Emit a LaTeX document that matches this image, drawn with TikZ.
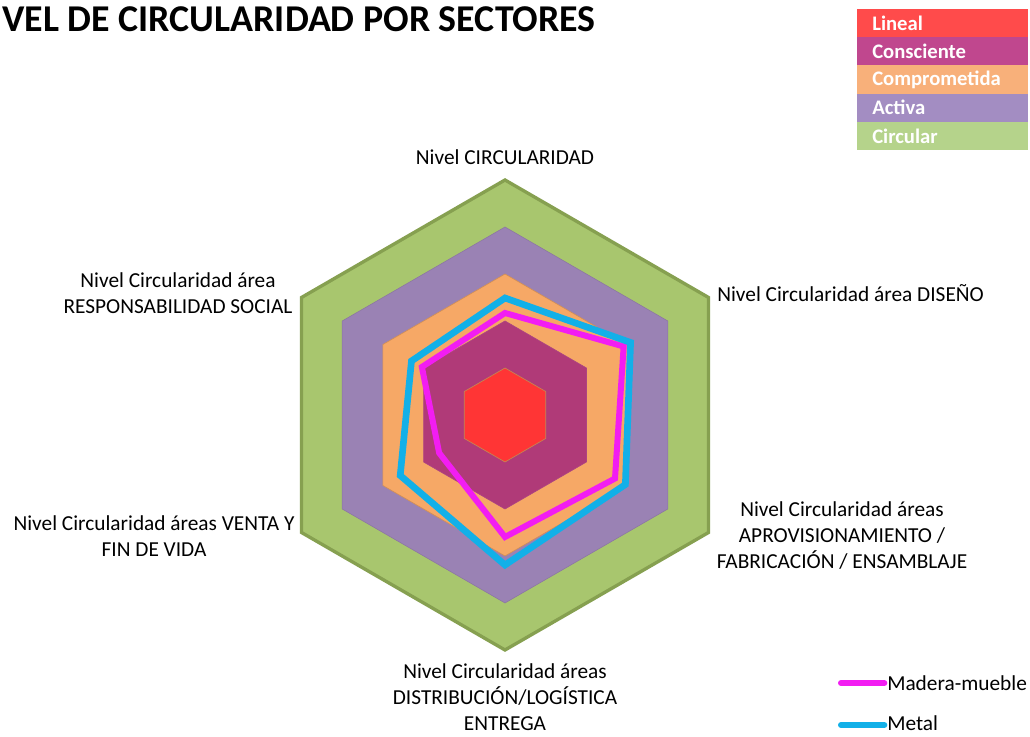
\documentclass[tikz,border=0pt]{standalone}
\usepackage{fontspec}
\setmainfont{Carlito}
\usepackage{tikz}
\definecolor{chartRed}{HTML}{FF3535}
\definecolor{chartCons}{HTML}{B03A78}
\definecolor{chartOrange}{HTML}{F6A866}
\definecolor{chartPurple}{HTML}{9A82B4}
\definecolor{chartGreen}{HTML}{A8C66E}
\definecolor{greenEdge}{HTML}{86A050}
\definecolor{keyLineal}{HTML}{FF4B4B}
\definecolor{keyCons}{HTML}{C0478E}
\definecolor{keyComp}{HTML}{F8B07A}
\definecolor{keyActiva}{HTML}{A38DC2}
\definecolor{keyCircular}{HTML}{B5D38B}
\definecolor{maderaMag}{HTML}{F21DF2}
\definecolor{metalCyan}{HTML}{12B0E8}

\begin{document}
\begin{tikzpicture}[x=0.75pt, y=0.75pt,
  lbl/.style={font=\fontsize{16}{19.5}\selectfont, align=center, inner sep=0pt},
  keytext/.style={font=\bfseries\fontsize{15.5}{18}\selectfont, text=white, anchor=west, inner sep=0pt},
  maderaLine/.style={line width=4.5pt, maderaMag},
  metalLine/.style={line width=5pt, metalCyan}]
	\useasboundingbox (0,0) rectangle (1030,737);
	\fill[white] (0,0) rectangle (1030,737);
	\node[anchor=east, font=\bfseries\fontsize{28.4}{34}\selectfont, inner sep=0pt] (titulo) at (596,718) {VEL DE CIRCULARIDAD POR SECTORES};

	\fill[keyLineal] (857,728) rectangle (1028,699.8);
	\fill[keyCons] (857,699.8) rectangle (1028,671.6);
	\fill[keyComp] (857,671.6) rectangle (1028,643.4);
	\fill[keyActiva] (857,643.4) rectangle (1028,615.2);
	\fill[keyCircular] (857,615.2) rectangle (1028,587);
	\node[keytext] (lineal) at (872,713.9) {Lineal};
	\node[keytext] (consciente) at (872,685.7) {Consciente};
	\node[keytext] (comprometida) at (872,657.5) {Comprometida};
	\node[keytext] (activa) at (872,629.3) {Activa};
	\node[keytext] (circular) at (872,601.1) {Circular};

	\begin{scope}[shift={(505,322)}]
	\draw[fill=chartGreen, draw=greenEdge, line width=2.5pt] (90:235) -- (30:235) -- (-30:235) -- (-90:235) -- (210:235) -- (150:235) -- cycle;
	\draw[fill=chartPurple, draw=chartPurple!90!black, line width=0.4pt] (90:188) -- (30:188) -- (-30:188) -- (-90:188) -- (210:188) -- (150:188) -- cycle;
	\draw[fill=chartOrange, draw=chartOrange!85!black, line width=0.5pt] (90:141) -- (30:141) -- (-30:141) -- (-90:141) -- (210:141) -- (150:141) -- cycle;
	\draw[fill=chartCons, draw=chartCons!85!chartPurple, line width=0.5pt] (90:94) -- (30:94) -- (-30:94) -- (-90:94) -- (210:94) -- (150:94) -- cycle;
	\draw[fill=chartRed, draw=chartOrange!80!black, line width=0.5pt] (90:47) -- (30:47) -- (-30:47) -- (-90:47) -- (210:47) -- (150:47) -- cycle;
	\draw[maderaLine] (90:102) -- (30:137) -- (-30:127) -- (-90:122) -- (210:76) -- (150:96) -- cycle;
	\draw[metalLine] (90:117) -- (30:145) -- (-30:139) -- (-90:150) -- (210:121) -- (150:108) -- cycle;
	\end{scope}

	\node[lbl] (nivel) at (505,580) {Nivel CIRCULARIDAD};
	\node[lbl, anchor=west] (diseno) at (717,444) {Nivel Circularidad área DISEÑO};
	\node[lbl] (aprov) at (842,201) {Nivel Circularidad áreas\\APROVISIONAMIENTO /\\FABRICACIÓN / ENSAMBLAJE};
	\node[lbl] (distrib) at (505,40) {Nivel Circularidad áreas\\DISTRIBUCIÓN/LOGÍSTICA\\ENTREGA};
	\node[lbl] (venta) at (154,201) {Nivel Circularidad áreas VENTA Y\\FIN DE VIDA};
	\node[lbl] (social) at (178,444) {Nivel Circularidad área\\RESPONSABILIDAD SOCIAL};

	\node[lbl, anchor=west] (madera) at (887,54) {Madera-mueble};
	\node[lbl, anchor=west] (metal) at (887,14) {Metal};
	\coordinate (maderaIni) at (841,54);
	\coordinate (metalIni) at (841,12);
	\draw[maderaLine, line width=4.5pt, line cap=round] (maderaIni) -- ([xshift=-2pt]madera.west);
	\draw[metalLine, line width=4.5pt, line cap=round] (metalIni) -- ([xshift=-2pt,yshift=-1.5pt]metal.west);
\end{tikzpicture}
\end{document}
